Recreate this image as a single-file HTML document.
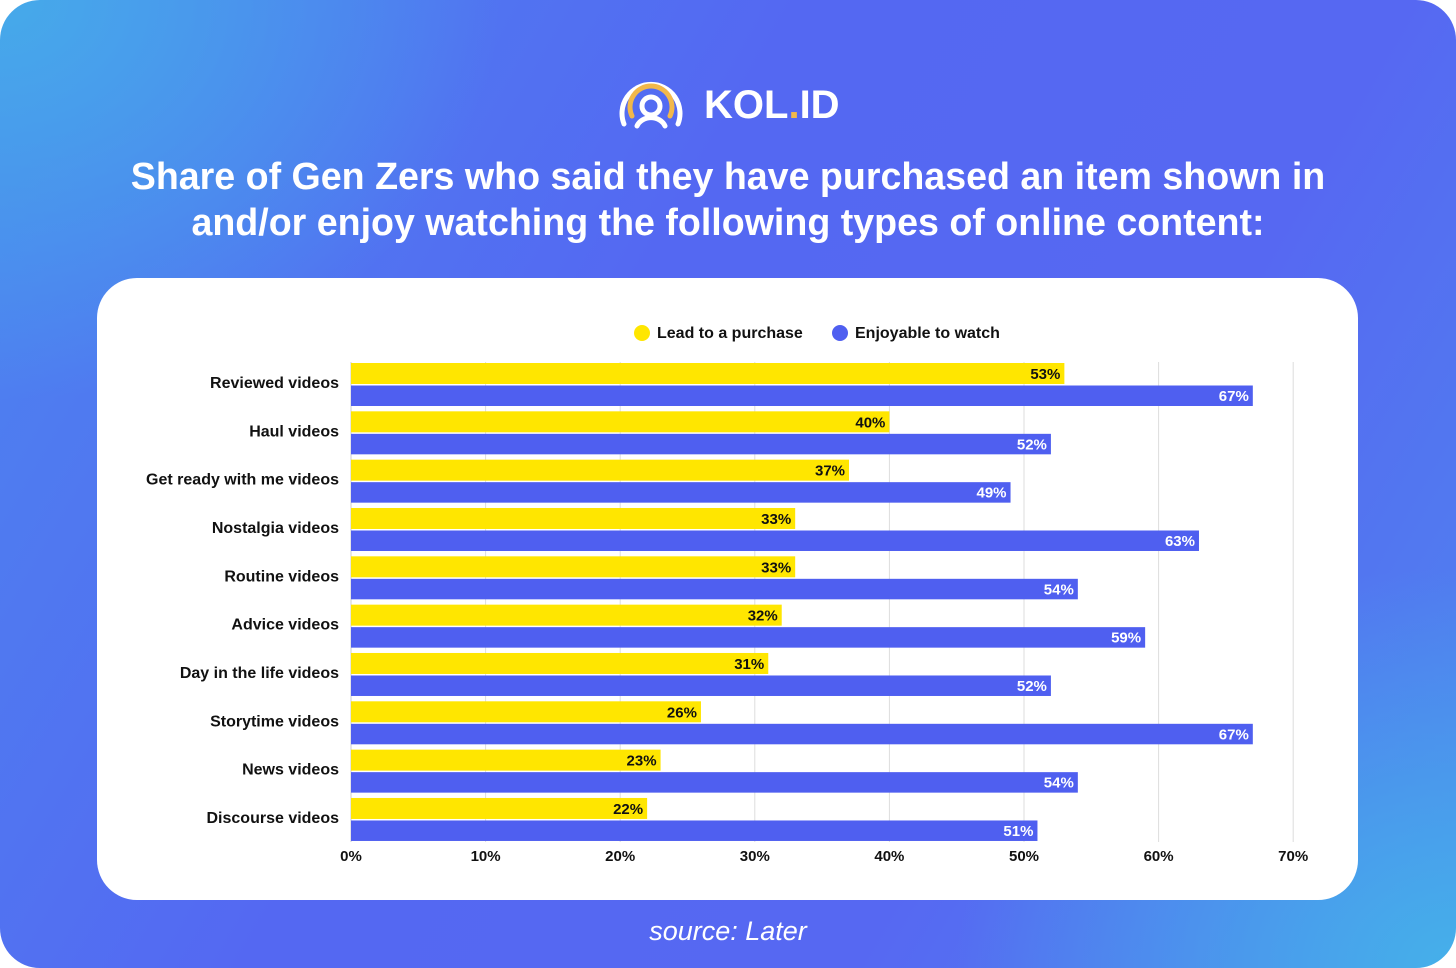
<!DOCTYPE html>
<html><head><meta charset="utf-8"><style>
body{margin:0;width:1456px;height:968px;overflow:hidden;background:#fff;font-family:"Liberation Sans",sans-serif}
.bg{position:absolute;left:0;top:0;width:1456px;height:968px;border-radius:40px;background:
radial-gradient(ellipse 500px 400px at 0 0,#46aaea 0%,rgba(70,170,234,0) 100%),
radial-gradient(ellipse 500px 400px at 100% 100%,#45b0ea 0%,rgba(70,170,234,0) 100%),
linear-gradient(120deg,#4c86ef 0%,#5468f2 40%,#5668f2 70%,#4e86ee 100%);}
.title{position:absolute;left:0;width:1456px;top:153px;text-align:center;color:#fff;font-weight:bold;font-size:37.6px;line-height:46px}
.card{position:absolute;left:97px;top:278px;width:1261px;height:622px;background:#fff;border-radius:40px}
.src{position:absolute;top:916px;width:1456px;text-align:center;color:#fff;font-style:italic;font-size:27px}
</style></head><body>
<div class="bg"></div>
<svg style="position:absolute;left:612px;top:66px" width="240" height="66">
<path d="M12 58 A29 29 0 1 1 66 58" fill="none" stroke="#fff" stroke-width="5" stroke-linecap="round"/>
<path d="M20 50 A21 21 0 1 1 58 50" fill="none" stroke="#f2b84a" stroke-width="5" stroke-linecap="round"/>
<circle cx="39" cy="40" r="9" fill="none" stroke="#fff" stroke-width="5"/>
<path d="M25 60 A15 13 0 0 1 53 60" fill="none" stroke="#fff" stroke-width="5" stroke-linecap="round"/>
<text x="92" y="52" fill="#fff" font-family="Liberation Sans" font-weight="bold" font-size="40">KOL<tspan fill="#f2b84a">.</tspan>ID</text>
</svg>
<div class="title">Share of Gen Zers who said they have purchased an item shown in<br>and/or enjoy watching the following types of online content:</div>
<div class="card"></div>
<svg style="position:absolute;left:0;top:0" width="1456" height="968" font-family="Liberation Sans" font-weight="bold" font-size="15">
<circle cx="642" cy="333" r="8" fill="#ffe600"/><text x="657" y="338" fill="#111" font-size="16">Lead to a purchase</text>
<circle cx="840" cy="333" r="8" fill="#4f5ff0"/><text x="855" y="338" fill="#111" font-size="16">Enjoyable to watch</text>
<g stroke="#ddd" stroke-width="1">
<line x1="485.6" y1="362" x2="485.6" y2="842"/><line x1="620.2" y1="362" x2="620.2" y2="842"/><line x1="754.8" y1="362" x2="754.8" y2="842"/><line x1="889.4" y1="362" x2="889.4" y2="842"/><line x1="1024" y1="362" x2="1024" y2="842"/><line x1="1158.6" y1="362" x2="1158.6" y2="842"/><line x1="1293.2" y1="362" x2="1293.2" y2="842"/>
</g>
<line x1="351" y1="362" x2="351" y2="842" stroke="#ccc"/>
<g id="bars"></g>
<g text-anchor="middle" fill="#111">
<text x="351" y="861">0%</text><text x="485.6" y="861">10%</text><text x="620.2" y="861">20%</text><text x="754.8" y="861">30%</text><text x="889.4" y="861">40%</text><text x="1024" y="861">50%</text><text x="1158.6" y="861">60%</text><text x="1293.2" y="861">70%</text>
</g>
</svg>
<script>
var d=[["Reviewed videos",53,67],["Haul videos",40,52],["Get ready with me videos",37,49],["Nostalgia videos",33,63],["Routine videos",33,54],["Advice videos",32,59],["Day in the life videos",31,52],["Storytime videos",26,67],["News videos",23,54],["Discourse videos",22,51]];
var s="";
d.forEach(function(r,i){var y=363+i*48.33,w1=r[1]*13.46,w2=r[2]*13.46;
s+='<rect x="351" y="'+y+'" width="'+w1+'" height="21" fill="#ffe600"/>';
s+='<rect x="351" y="'+(y+22.5)+'" width="'+w2+'" height="20.5" fill="#4f5ff0"/>';
s+='<text x="'+(351+w1-4)+'" y="'+(y+16)+'" text-anchor="end" fill="#111">'+r[1]+'%</text>';
s+='<text x="'+(351+w2-4)+'" y="'+(y+38)+'" text-anchor="end" fill="#fff">'+r[2]+'%</text>';
s+='<text x="339" y="'+(y+25)+'" text-anchor="end" fill="#111" font-size="16">'+r[0]+'</text>';});
document.getElementById("bars").innerHTML=s;
</script>
<div class="src">source: Later</div>
</body></html>
